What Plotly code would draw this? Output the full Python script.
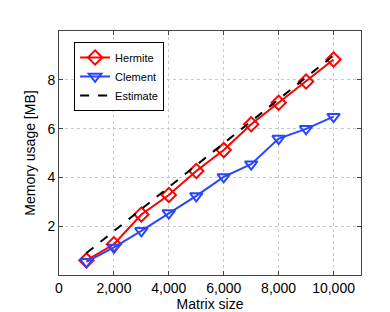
import plotly.graph_objects as go

matrix_size = [1000, 2000, 3000, 4000, 5000, 6000, 7000, 8000, 9000, 10000]
hermite = [0.60, 1.26, 2.48, 3.28, 4.26, 5.12, 6.18, 7.06, 7.93, 8.83]
clement = [0.54, 1.13, 1.81, 2.54, 3.24, 4.02, 4.54, 5.59, 5.99, 6.49]
estimate = [0.90, 1.80, 2.70, 3.60, 4.50, 5.40, 6.30, 7.20, 8.10, 9.00]

x_ticks = [0, 2000, 4000, 6000, 8000, 10000]
x_ticktext = ["0", "2,000", "4,000", "6,000", "8,000", "10,000"]
y_ticks = [2, 4, 6, 8]

fig = go.Figure()
fig.add_trace(go.Scatter(
    x=matrix_size, y=hermite, name="Hermite", mode="lines+markers",
    line=dict(color="#ff0000", width=2),
    marker=dict(symbol="diamond-open", size=11, color="#ff0000", line=dict(width=2)),
))
fig.add_trace(go.Scatter(
    x=matrix_size, y=clement, name="Clement", mode="lines+markers",
    line=dict(color="#2846ff", width=2),
    marker=dict(symbol="triangle-down-open", size=11, color="#2846ff", line=dict(width=2)),
))
fig.add_trace(go.Scatter(
    x=matrix_size, y=estimate, name="Estimate", mode="lines",
    line=dict(color="#000000", width=2, dash="dash"),
))

axis_common = dict(
    showline=True, linecolor="#444444", linewidth=1, mirror="ticks",
    ticks="inside", ticklen=4, tickcolor="#444444",
    showgrid=True, gridcolor="#c8c8c8", griddash="dot", gridwidth=1,
    zeroline=False,
    tickfont=dict(family="Liberation Sans, Arial, sans-serif", size=14, color="#000"),
    title_font=dict(family="Liberation Sans, Arial, sans-serif", size=14, color="#000"),
)

fig.update_layout(
    width=390, height=312,
    margin=dict(l=51, r=37, t=23, b=35),
    paper_bgcolor="white", plot_bgcolor="white",
    showlegend=True,
    legend=dict(
        x=0.05, y=0.955, xanchor="left", yanchor="top",
        bgcolor="white", bordercolor="#000000", borderwidth=1,
        font=dict(family="Liberation Sans, Arial, sans-serif", size=11, color="#000"),
        tracegroupgap=0, itemwidth=30,
    ),
    xaxis=dict(range=[0, 11000], tickvals=x_ticks, ticktext=x_ticktext,
               title=dict(text="Matrix size", standoff=2), **axis_common),
    yaxis=dict(range=[0, 10], tickvals=y_ticks,
               title=dict(text="Memory usage [MB]", standoff=8), **axis_common),
)

fig.write_html("out.html")
